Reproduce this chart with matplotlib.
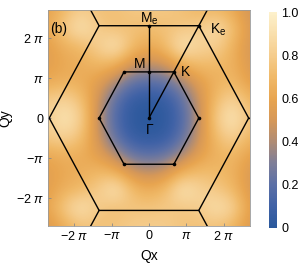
import numpy as np
import matplotlib
matplotlib.use("Agg")
import matplotlib.pyplot as plt
from matplotlib.colors import LinearSegmentedColormap

plt.rcParams['font.family'] = ['Liberation Sans', 'DejaVu Sans']
plt.rcParams['mathtext.fontset'] = 'custom'
plt.rcParams['mathtext.rm'] = 'Liberation Sans'
plt.rcParams['mathtext.it'] = 'Liberation Sans:italic'

PI = np.pi
# grid of sample positions (units of pi)
grid_q = [-2.7, -2.25, -1.8, -1.35, -0.9, -0.45, 0, 0.45, 0.9, 1.35, 1.8, 2.25, 2.7]
# intensity values, rows from top (Qy=2.7pi) to bottom (Qy=-2.7pi)
row_p270 = [0.58, 0.70, 0.80, 0.74, 0.74, 0.78, 0.78, 0.78, 0.74, 0.68, 0.68, 0.62, 0.48]
row_p225 = [0.62, 0.80, 0.95, 0.78, 0.72, 0.74, 0.72, 0.74, 0.76, 0.80, 0.90, 0.74, 0.52]
row_p180 = [0.56, 0.66, 0.70, 0.82, 0.96, 0.72, 0.62, 0.72, 0.96, 0.84, 0.82, 0.66, 0.50]
row_p135 = [0.56, 0.62, 0.64, 0.70, 0.66, 0.50, 0.44, 0.50, 0.66, 0.72, 0.70, 0.66, 0.52]
row_p090 = [0.62, 0.66, 0.64, 0.56, 0.40, 0.22, 0.18, 0.22, 0.38, 0.56, 0.66, 0.70, 0.56]
row_p045 = [0.80, 0.85, 0.74, 0.48, 0.20, 0.05, 0.02, 0.05, 0.20, 0.48, 0.72, 0.85, 0.68]
row_000 = [0.80, 0.95, 0.82, 0.44, 0.16, 0.02, 0.00, 0.02, 0.16, 0.44, 0.80, 0.96, 0.74]
row_m045 = [0.80, 0.85, 0.74, 0.48, 0.20, 0.05, 0.02, 0.05, 0.20, 0.48, 0.72, 0.85, 0.68]
row_m090 = [0.62, 0.66, 0.64, 0.56, 0.40, 0.22, 0.18, 0.22, 0.38, 0.56, 0.66, 0.70, 0.58]
row_m135 = [0.56, 0.62, 0.64, 0.70, 0.66, 0.50, 0.44, 0.50, 0.66, 0.72, 0.70, 0.66, 0.52]
row_m180 = [0.56, 0.66, 0.70, 0.80, 0.96, 0.72, 0.64, 0.72, 0.96, 0.84, 0.78, 0.70, 0.52]
row_m225 = [0.60, 0.80, 0.95, 0.78, 0.72, 0.76, 0.76, 0.78, 0.76, 0.80, 0.92, 0.85, 0.56]
row_m270 = [0.52, 0.64, 0.74, 0.74, 0.76, 0.80, 0.80, 0.80, 0.76, 0.74, 0.74, 0.68, 0.52]

intensity = np.array([row_p270, row_p225, row_p180, row_p135, row_p090, row_p045, row_000,
                      row_m045, row_m090, row_m135, row_m180, row_m225, row_m270])

cb_ticks = [0, 0.2, 0.4, 0.6, 0.8, 1.0]
cb_labels = ["0", "0.2", "0.4", "0.6", "0.8", "1.0"]
q_ticks = [-2, -1, 0, 1, 2]
q_labels = ["\u22122 $\\pi$", "\u2212$\\pi$", "0", "$\\pi$", "2 $\\pi$"]

cmap = LinearSegmentedColormap.from_list("bz", [
    (0.0, "#2a589c"), (0.1, "#4062a6"), (0.2, "#5c70a6"), (0.3, "#7e7e98"),
    (0.4, "#b08c74"), (0.5, "#d69858"), (0.6, "#e8a550"), (0.7, "#f0b968"),
    (0.8, "#f5cc8c"), (0.9, "#f9dfac"), (1.0, "#fdf1cc")])

fig = plt.figure(figsize=(3.0, 2.73), dpi=100)
ax = fig.add_axes([0.16, 0.172, 0.673, 0.791])
step = (grid_q[1] - grid_q[0]) * PI
lo = grid_q[0] * PI - step / 2
hi = grid_q[-1] * PI + step / 2
im = ax.imshow(intensity, extent=[lo, hi, lo, hi], origin='upper', cmap=cmap, vmin=0, vmax=1,
               interpolation='bicubic', aspect='auto')
lim = 2.7 * PI
ax.set_xlim(-lim, lim)
ax.set_ylim(-lim, lim)

s3 = np.sqrt(3)
hexv = np.array([(4/3, 0), (2/3, 2/s3), (-2/3, 2/s3), (-4/3, 0), (-2/3, -2/s3), (2/3, -2/s3), (4/3, 0)]) * PI
ax.plot(hexv[:, 0], hexv[:, 1], color='black', lw=1.0)
big = hexv * 2
ax.plot(big[:, 0], big[:, 1], color='black', lw=1.0)
# outward lines from the big-hexagon corners
for sx in (1, -1):
    for sy in (1, -1):
        x0, y0 = sx * 4/3 * PI, sy * 4/s3 * PI
        ax.plot([x0, x0 + sx * 1.0 * PI], [y0, y0 + sy * s3 * PI], color='black', lw=1.0)
for sx in (1, -1):
    ax.plot([sx * 8/3 * PI, sx * 4 * PI], [0, 0], color='black', lw=1.0)
# Gamma-M-Me and Gamma-K-Ke paths
ax.plot([0, 0], [0, 4/s3 * PI], color='black', lw=1.0)
ax.plot([0, 4/3 * PI], [0, 4/s3 * PI], color='black', lw=1.0)
dots = np.vstack([hexv[:-1], [[0, 0], [0, 2/s3 * PI], [0, 4/s3 * PI], [4/3 * PI, 4/s3 * PI]]])
ax.plot(dots[:, 0], dots[:, 1], 'o', color='black', ms=2.6, mec='none')

ax.text(-2.64 * PI, 2.22 * PI, "(b)", fontsize=10, ha='left', va='center')
ax.text(0.02 * PI, 2.49 * PI, "M$_\\mathrm{e}$", fontsize=10, ha='center', va='center')
ax.text(1.62 * PI, 2.2 * PI, "K$_\\mathrm{e}$", fontsize=10, ha='left', va='center')
ax.text(-0.24 * PI, 1.36 * PI, "M", fontsize=10, ha='center', va='center')
ax.text(0.86 * PI, 1.16 * PI, "K", fontsize=10, ha='left', va='center')
ax.text(0.02 * PI, -0.3 * PI, "\u0393", fontsize=10, ha='center', va='center')

ax.set_xticks([t * PI for t in q_ticks])
ax.set_xticklabels(q_labels)
ax.set_yticks([t * PI for t in q_ticks])
ax.set_yticklabels(q_labels)
ax.tick_params(direction='in', length=2, width=0.6, color='#888888', labelsize=9, pad=3)
for sp in ax.spines.values():
    sp.set_color('#999999')
    sp.set_linewidth(0.6)
ax.set_xlabel("Qx", fontsize=10, labelpad=4)
ax.set_ylabel("Qy", fontsize=10, labelpad=2)

cax = fig.add_axes([0.897, 0.165, 0.027, 0.791])
cb = fig.colorbar(im, cax=cax, ticks=cb_ticks)
cb.set_ticklabels(cb_labels)
cb.outline.set_visible(False)
cax.tick_params(length=0, labelsize=9, pad=3)

fig.savefig("out.png", dpi=100)
